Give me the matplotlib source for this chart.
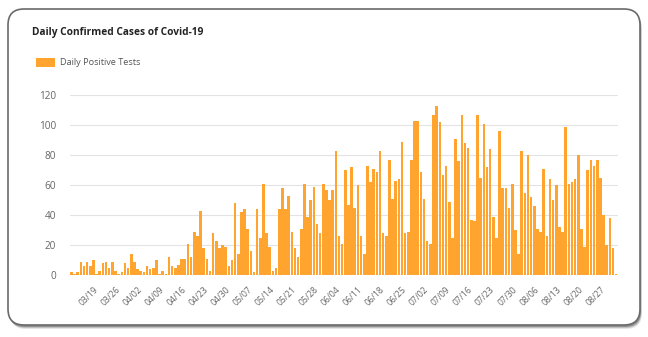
import datetime as dt
import matplotlib
matplotlib.use("Agg")
import matplotlib.pyplot as plt
import matplotlib.transforms as mtransforms
from matplotlib.patches import FancyBboxPatch, Rectangle

plt.rcParams['font.family'] = ['Open Sans', 'DejaVu Sans']

# daily positive tests, one value per day starting 03/12
start_date = dt.date(2020, 3, 12)
daily_positive = [
    2, 1, 2, 9, 6, 9, 6, 10, 1, 3, 8, 9, 5, 9, 3, 1, 2, 8, 5, 14,
    9, 4, 3, 2, 6, 4, 5, 10, 1, 3, 1, 12, 6, 5, 7, 11, 11, 21, 12, 29,
    26, 43, 18, 11, 3, 28, 23, 18, 20, 19, 6, 10, 48, 14, 42, 44, 31, 16, 2, 44,
    25, 61, 28, 19, 3, 5, 44, 58, 44, 53, 29, 18, 12, 31, 61, 39, 50, 59, 34, 28,
    61, 57, 50, 57, 83, 26, 21, 70, 47, 72, 45, 60, 26, 14, 73, 62, 71, 69, 83, 28,
    26, 77, 51, 63, 64, 89, 28, 29, 77, 103, 103, 69, 51, 23, 21, 107, 113, 102, 67, 73,
    49, 25, 91, 76, 107, 88, 85, 37, 36, 107, 65, 101, 72, 84, 39, 25, 96, 58, 58, 45,
    61, 30, 14, 83, 55, 80, 52, 46, 31, 29, 71, 26, 64, 50, 60, 32, 29, 99, 61, 62,
    64, 80, 31, 19, 70, 77, 73, 77, 65, 40, 20, 38, 18, 0.5,
]
y_ticks = [0, 20, 40, 60, 80, 100, 120]

dates = [start_date + dt.timedelta(days=i) for i in range(len(daily_positive))]
x = list(range(len(daily_positive)))
tick_idx = list(range(7, len(dates), 7))
tick_labels = [dates[i].strftime("%m/%d") for i in tick_idx]

W, H = 648, 337
fig = plt.figure(figsize=(W / 100, H / 100), dpi=100)
fig.patch.set_facecolor("white")

# card with a soft drop shadow, drawn in pixel coordinates
px = mtransforms.IdentityTransform()
for off, alpha in [(4, 0.15), (3, 0.25), (2, 0.45)]:
    fig.patches.append(FancyBboxPatch(
        (8 + off * 0.5, 12 - off), 632, 316,
        boxstyle="round,pad=0,rounding_size=16",
        transform=px, facecolor="#555555", edgecolor="none", alpha=alpha, zorder=-3))
fig.patches.append(FancyBboxPatch(
    (8, 12), 632, 316, boxstyle="round,pad=0,rounding_size=16",
    transform=px, facecolor="white", edgecolor="#6a6a6a", linewidth=1.2, zorder=-2))

fig.text(32 / W, 1 - 32 / H, "Daily Confirmed Cases of Covid-19", fontsize=7.3,
         fontweight="bold", color="#222222", va="center", ha="left")
fig.patches.append(Rectangle((36, H - 67), 19, 9, transform=px,
                             facecolor="#FFA52F", edgecolor="none", zorder=2))
fig.text(60 / W, 1 - 62.5 / H, "Daily Positive Tests", fontsize=6.6,
         color="#555555", va="center", ha="left")

ax = fig.add_axes([70 / W, 1 - 275 / H, 548 / W, 180 / H])
ax.set_zorder(3)
ax.set_facecolor("none")
ax.bar(x, daily_positive, width=0.82, color="#FFA52F", zorder=2)
ax.set_xlim(-0.45, len(daily_positive) - 0.4)
ax.set_ylim(0, 120)
ax.set_yticks(y_ticks)
ax.yaxis.grid(True, color="#e3e3e3", linewidth=0.8, zorder=0)
ax.set_axisbelow(True)
for s in ax.spines.values():
    s.set_visible(False)
ax.tick_params(axis="both", length=0, colors="#666666")
ax.tick_params(axis="y", labelsize=7.2, pad=10)
ax.set_xticks(tick_idx)
ax.set_xticklabels(tick_labels, rotation=45, ha="right", va="top",
                   rotation_mode="anchor", fontsize=6.2)
ax.tick_params(axis="x", pad=7)

fig.savefig("out.png", dpi=100)
